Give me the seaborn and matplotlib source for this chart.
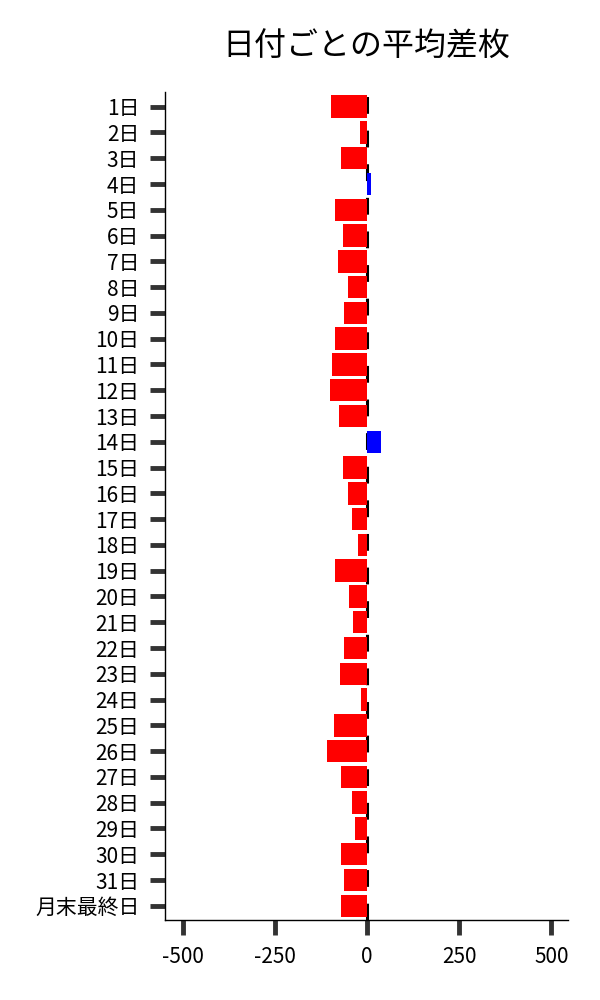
import pandas as pd
import numpy as np
import matplotlib
matplotlib.use("Agg")
import matplotlib.pyplot as plt
import seaborn as sns

# days of month + month-end
days = [f"{i}日" for i in range(1, 32)] + ["月末最終日"]
avg_diff = [-97, -19, -70, 10, -87, -65, -79, -52, -62, -87,
            -95, -100, -76, 37, -65, -52, -41, -24, -87, -49,
            -38, -62, -73, -16, -89, -108, -70, -41, -33, -70,
            -62, -70]
xticks = [-500, -250, 0, 250, 500]

sns.set_theme(style="ticks")
plt.rcParams['font.family'] = ['Noto Sans CJK JP', 'DejaVu Sans']
plt.rcParams['axes.unicode_minus'] = False

df = pd.DataFrame({"day": days, "diff": avg_diff})
df["sign"] = np.where(df["diff"] >= 0, "plus", "minus")

fig = plt.figure(figsize=(6, 10), dpi=100)
ax = fig.add_axes([0.275, 0.08, 0.672, 0.828])

# zero line under the bars
ax.axvline(0, color="black", linewidth=2.2, linestyle=(0, (5.5, 5.5)), zorder=0)

sns.barplot(data=df, x="diff", y="day", hue="sign", orient="h",
            palette={"minus": "#ff0000", "plus": "#0000ff"},
            dodge=False, legend=False, width=0.87, saturation=1,
            linewidth=0, ax=ax, zorder=2)

ax.set_xlim(-548, 546)
ax.set_ylim(len(days) - 0.45, -0.57)
ax.set_xticks(xticks)
ax.set_xticklabels([str(v) for v in xticks])
ax.set_xlabel("")
ax.set_ylabel("")
ax.tick_params(axis="both", length=10.5, width=3.5, color="#333333",
               pad=8, labelsize=15, labelcolor="black")
for s in ["left", "bottom"]:
    ax.spines[s].set_color("black")
    ax.spines[s].set_linewidth(1)
sns.despine(ax=ax)

ax.set_title("日付ごとの平均差枚", fontsize=23, pad=26, color="black")

fig.savefig("out.png", dpi=100)
